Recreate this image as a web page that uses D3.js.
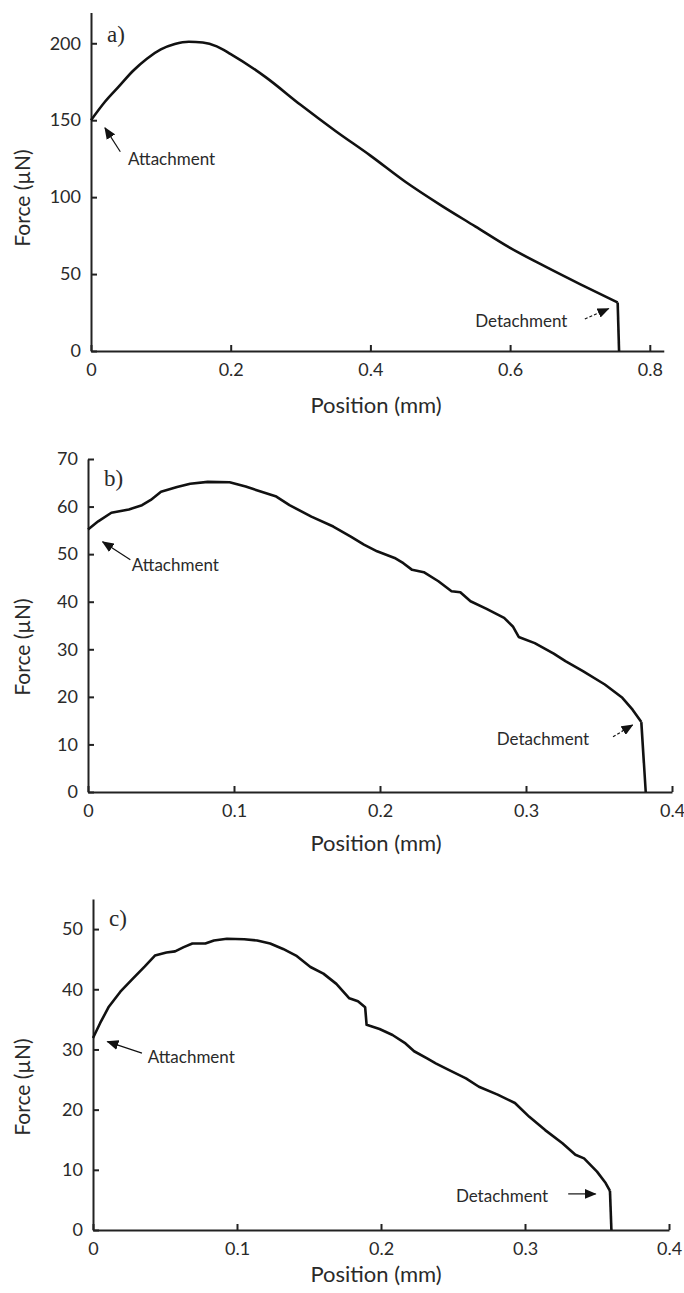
<!DOCTYPE html>
<html>
<head>
<meta charset="utf-8">
<script src="https://cdn.jsdelivr.net/npm/d3@7"></script>
<style>
  body { margin: 0; background: #fff; }
  text { font-family: Lato, "Open Sans", sans-serif; fill: #2a2a2a; }
</style>
</head>
<body>
<div id="chart"></div>
<script>
// Panel a) force vs position
const posA = [0, 0.02, 0.04, 0.06, 0.08, 0.10, 0.12, 0.14, 0.16, 0.18, 0.20, 0.25, 0.30, 0.35, 0.40, 0.45, 0.50, 0.55, 0.60, 0.65, 0.70, 0.754, 0.756];
const forceA = [150, 162, 172, 182, 190, 196, 199.5, 201, 200.5, 198, 193, 178, 160, 143, 127, 110, 95, 81, 67, 55, 43.5, 31.5, 0];

// Panel b)
const posB = [0, 0.007, 0.016, 0.028, 0.037, 0.043, 0.05, 0.061, 0.07, 0.082, 0.097, 0.108, 0.129, 0.138, 0.153, 0.168, 0.18, 0.189, 0.198, 0.21, 0.216, 0.222, 0.23, 0.24, 0.249, 0.255, 0.262, 0.273, 0.285, 0.291, 0.295, 0.306, 0.319, 0.327, 0.339, 0.354, 0.366, 0.373, 0.379, 0.382];
const forceB = [55.2, 56.9, 58.7, 59.4, 60.3, 61.4, 63.1, 64.1, 64.8, 65.2, 65.1, 64.2, 62.1, 60.3, 57.9, 55.8, 53.7, 52.0, 50.6, 49.2, 48.1, 46.7, 46.2, 44.3, 42.2, 42.0, 40.1, 38.5, 36.6, 34.8, 32.6, 31.3, 29.1, 27.5, 25.4, 22.6, 19.8, 17.3, 14.7, 0];

// Panel c)
const posC = [0, 0.005, 0.011, 0.019, 0.027, 0.036, 0.043, 0.051, 0.057, 0.063, 0.069, 0.078, 0.084, 0.093, 0.105, 0.114, 0.123, 0.132, 0.141, 0.151, 0.16, 0.169, 0.178, 0.184, 0.189, 0.19, 0.199, 0.208, 0.217, 0.223, 0.232, 0.238, 0.247, 0.259, 0.268, 0.281, 0.293, 0.303, 0.314, 0.326, 0.335, 0.341, 0.35, 0.356, 0.359, 0.36];
const forceC = [31.9, 34.4, 37.1, 39.6, 41.6, 43.8, 45.6, 46.1, 46.3, 47.0, 47.6, 47.6, 48.1, 48.4, 48.3, 48.1, 47.6, 46.7, 45.6, 43.7, 42.6, 40.9, 38.5, 38.0, 37.0, 34.1, 33.4, 32.4, 31.0, 29.7, 28.5, 27.7, 26.6, 25.2, 23.8, 22.5, 21.1, 18.8, 16.6, 14.4, 12.5, 11.9, 9.7, 7.8, 6.5, 0];

// tick labels
const xTicksA = [0, 0.2, 0.4, 0.6, 0.8];
const yTicksA = [0, 50, 100, 150, 200];
const xTicksB = [0, 0.1, 0.2, 0.3, 0.4];
const yTicksB = [0, 10, 20, 30, 40, 50, 60, 70];
const xTicksC = [0, 0.1, 0.2, 0.3, 0.4];
const yTicksC = [0, 10, 20, 30, 40, 50];

const panelLetters = ['a)', 'b)', 'c)'];
const xTitle = 'Position (mm)';
const yTitle = 'Force (µN)';

const svg = d3.select('#chart').append('svg')
    .attr('width', 684)
    .attr('height', 1293);

svg.append('defs').append('marker')
    .attr('id', 'head')
    .attr('viewBox', '0 0 12 10')
    .attr('refX', 11).attr('refY', 5)
    .attr('markerWidth', 12).attr('markerHeight', 10)
    .attr('markerUnits', 'userSpaceOnUse')
    .attr('orient', 'auto')
    .append('path')
    .attr('d', 'M0,0 L12,5 L0,10 Z')
    .attr('fill', '#111');

const panels = [
    {
        pos: posA, force: forceA, xTicks: xTicksA, yTicks: yTicksA, letter: panelLetters[0],
        xDomain: [0, 0.82], yDomain: [0, 220], left: 91, pxPerX: 698.5, bottom: 351, top: 12.5,
        curve: d3.curveMonotoneX,
        attach: { tip: [0.02, 145], tail: [0.042, 129.5], text: [0.053, 121] },
        detach: { tail: [0.707, 20.8], tip: [0.741, 27.6], text: [0.55, 15.6] },
        xTitleY: 413, yTitleY: 198
    },
    {
        pos: posB, force: forceB, xTicks: xTicksB, yTicks: yTicksB, letter: panelLetters[1],
        xDomain: [0, 0.4], yDomain: [0, 70], left: 88, pxPerX: 1460, bottom: 792, top: 459,
        curve: d3.curveLinear,
        attach: { tip: [0.01, 52.6], tail: [0.029, 48.8], text: [0.03, 46.4] },
        detach: { tail: [0.3596, 11.6], tip: [0.373, 14.1], text: [0.28, 9.8] },
        xTitleY: 851, yTitleY: 647
    },
    {
        pos: posC, force: forceC, xTicks: xTicksC, yTicks: yTicksC, letter: panelLetters[2],
        xDomain: [0, 0.4], yDomain: [0, 55], left: 93, pxPerX: 1440, bottom: 1230, top: 899,
        curve: d3.curveLinear,
        attach: { tip: [0.01, 31.3], tail: [0.034, 29.4], text: [0.038, 27.7] },
        detach: { tail: [0.33, 6.0], tip: [0.349, 6.0], text: [0.252, 4.7] },
        xTitleY: 1282, yTitleY: 1087
    }
];

panels.forEach(p => {
    const g = svg.append('g');

    const x = d3.scaleLinear()
        .domain(p.xDomain)
        .range([p.left, p.left + p.xDomain[1] * p.pxPerX]);

    const y = d3.scaleLinear()
        .domain(p.yDomain)
        .range([p.bottom, p.top]);

    const xAxis = g.append('g')
        .attr('transform', `translate(0,${p.bottom})`)
        .call(d3.axisBottom(x).tickValues(p.xTicks)
            .tickFormat(d => d === 0 ? '0' : d3.format('.1f')(d))
            .tickSizeInner(-6).tickSizeOuter(0).tickPadding(12));

    const yAxis = g.append('g')
        .attr('transform', `translate(${p.left},0)`)
        .call(d3.axisLeft(y).tickValues(p.yTicks)
            .tickSizeInner(-6).tickSizeOuter(0).tickPadding(10));

    [xAxis, yAxis].forEach(ax => {
        ax.select('.domain').attr('stroke', '#222').attr('stroke-width', 2);
        ax.selectAll('.tick line').attr('stroke', '#222').attr('stroke-width', 2);
        ax.selectAll('.tick text')
            .style('font-size', '18px')
            .style('font-family', 'Lato, sans-serif')
            .attr('fill', '#2a2a2a');
    });

    // measured curve, then the vertical drop at detachment
    const pts = p.pos.map((v, i) => [v, p.force[i]]);
    const line = d3.line()
        .x(d => x(d[0]))
        .y(d => y(d[1]));

    g.append('path')
        .datum(pts.slice(0, -1))
        .attr('d', line.curve(p.curve))
        .attr('fill', 'none')
        .attr('stroke', '#111')
        .attr('stroke-width', 2.6)
        .attr('stroke-linejoin', 'round');

    g.append('path')
        .datum(pts.slice(-2))
        .attr('d', line.curve(d3.curveLinear))
        .attr('fill', 'none')
        .attr('stroke', '#111')
        .attr('stroke-width', 2.6);

    // panel letter
    g.append('text')
        .attr('x', p.left + 16)
        .attr('y', p.top + (p === panels[0] ? 29 : 27))
        .style('font-family', '"Liberation Serif", "DejaVu Serif", serif')
        .style('font-size', '23px')
        .attr('fill', '#222')
        .text(p.letter);

    // annotations
    [['Attachment', p.attach], ['Detachment', p.detach]].forEach(([label, a]) => {
        g.append('line')
            .attr('x1', x(a.tail[0])).attr('y1', y(a.tail[1]))
            .attr('x2', x(a.tip[0])).attr('y2', y(a.tip[1]))
            .attr('stroke', '#111')
            .attr('stroke-width', 1.2)
            .attr('stroke-dasharray', label === 'Detachment' && p !== panels[2] ? '3,2' : null)
            .attr('marker-end', 'url(#head)');
        g.append('text')
            .attr('x', x(a.text[0]))
            .attr('y', y(a.text[1]))
            .style('font-size', '17px')
            .text(label);
    });

    // axis titles
    g.append('text')
        .attr('x', 376)
        .attr('y', p.xTitleY)
        .attr('text-anchor', 'middle')
        .style('font-size', '22px')
        .text(xTitle);

    g.append('text')
        .attr('transform', `translate(30,${p.yTitleY}) rotate(-90)`)
        .attr('text-anchor', 'middle')
        .style('font-size', '21px')
        .text(yTitle);
});
</script>
</body>
</html>
